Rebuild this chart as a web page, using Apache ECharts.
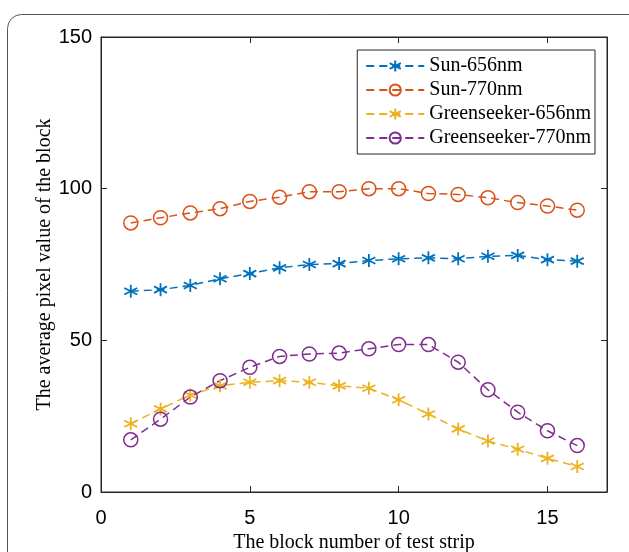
<!DOCTYPE html>
<html>
<head>
<meta charset="utf-8">
<script src="https://cdn.jsdelivr.net/npm/echarts@6/dist/echarts.min.js"></script>
<style>
  html, body { margin: 0; padding: 0; background: #fff; }
  #chart { width: 629px; height: 552px; }
</style>
</head>
<body>
<div id="chart"></div>
<script>
const blocks = [1, 2, 3, 4, 5, 6, 7, 8, 9, 10, 11, 12, 13, 14, 15, 16];
const sun656 = [66.2, 66.7, 68.1, 70.3, 72.0, 73.9, 75.0, 75.3, 76.3, 76.9, 77.2, 76.9, 77.7, 78.0, 76.6, 76.1];
const sun770 = [88.7, 90.4, 92.0, 93.4, 95.8, 97.2, 99.0, 99.0, 100.0, 100.0, 98.4, 98.1, 97.0, 95.4, 94.3, 92.9];
const gs656 = [22.5, 27.4, 32.0, 35.0, 36.2, 36.7, 36.2, 35.0, 34.2, 30.4, 25.7, 20.8, 16.8, 14.1, 11.1, 8.4];
const gs770 = [17.2, 24.0, 31.3, 36.7, 41.1, 44.7, 45.5, 45.8, 47.2, 48.6, 48.6, 42.8, 33.7, 26.3, 20.2, 15.3];
const seriesNames = ["Sun-656nm", "Sun-770nm", "Greenseeker-656nm", "Greenseeker-770nm"];
const colors = ["#0072BD", "#D95319", "#EDB120", "#7E2F8E"];

const star = "path://M0,-10L0,10M-8.66,-5L8.66,5M-8.66,5L8.66,-5";
const axisColor = "#262626";

function makeSeries(name, values, color, isStar) {
  return {
    name: name,
    type: "line",
    xAxisIndex: 0,
    yAxisIndex: 0,
    data: blocks.map((b, i) => [b, values[i]]),
    symbol: isStar ? star : "circle",
    symbolSize: isStar ? 13 : 14,
    lineStyle: { color: color, width: 1.5, type: [8, 5] },
    itemStyle: {
      color: isStar ? color : "rgba(0,0,0,0)",
      borderColor: color,
      borderWidth: isStar ? 1.8 : 1.5,
    },
    emphasis: { disabled: true },
    z: 3,
  };
}

// box axes (top / right) only carry ticks
const boxAxis = {
  type: "value",
  axisLine: { show: true, onZero: false, lineStyle: { color: axisColor, width: 1 } },
  axisTick: { show: true, inside: true, length: 6, lineStyle: { color: axisColor } },
  axisLabel: { show: false },
  splitLine: { show: false },
};

const chart = echarts.init(document.getElementById("chart"));
const option = {
  animation: false,
  graphic: [
    {
      type: "rect",
      shape: { x: 7.5, y: 14.5, width: 640, height: 580, r: 14 },
      style: { fill: "none", stroke: "#555", lineWidth: 1 },
      silent: true,
      z: -1,
    },
  ],
  grid: {
    left: 101,
    right: 22,
    top: 37,
    bottom: 60,
    outerBoundsMode: "none",
    containLabel: false,
    show: true,
    borderColor: axisColor,
    borderWidth: 1,
    backgroundColor: "rgba(0,0,0,0)",
  },
  legend: {
    orient: "vertical",
    right: 34,
    top: 50,
    data: seriesNames,
    backgroundColor: "#fff",
    borderColor: axisColor,
    borderWidth: 1,
    borderRadius: 0,
    padding: [6, 4, 6, 8],
    itemGap: 4,
    itemWidth: 58,
    itemHeight: 14,
    textStyle: { fontFamily: "Liberation Serif", fontSize: 20, lineHeight: 20, color: "#000" },
  },
  xAxis: [
    {
      type: "value",
      min: 0,
      max: 17,
      interval: 5,
      name: "The block number of test strip",
      nameLocation: "middle",
      nameGap: 41,
      nameMoveOverlap: false,
      nameTextStyle: { fontFamily: "Liberation Serif", fontSize: 20, color: "#000" },
      axisLine: { onZero: false, lineStyle: { color: axisColor, width: 1 } },
      axisTick: { inside: true, length: 6, lineStyle: { color: axisColor } },
      axisLabel: {
        margin: 16,
        fontFamily: "Liberation Sans",
        fontSize: 20,
        color: "#000",
        formatter: (v) => (v % 5 === 0 ? String(v) : ""),
      },
      splitLine: { show: false },
    },
    Object.assign({ position: "top", min: 0, max: 17, interval: 5 }, boxAxis),
  ],
  yAxis: [
    {
      type: "value",
      min: 0,
      max: 150,
      interval: 50,
      name: "The average pixel value of the block",
      nameLocation: "middle",
      nameGap: 46,
      nameMoveOverlap: false,
      nameTextStyle: { fontFamily: "Liberation Serif", fontSize: 20, color: "#000" },
      axisLine: { show: true, onZero: false, lineStyle: { color: axisColor, width: 1 } },
      axisTick: { show: true, inside: true, length: 6, lineStyle: { color: axisColor } },
      axisLabel: { margin: 9, fontFamily: "Liberation Sans", fontSize: 20, color: "#000" },
      splitLine: { show: false },
    },
    Object.assign({ position: "right", min: 0, max: 150, interval: 50 }, boxAxis),
  ],
  series: [
    makeSeries(seriesNames[0], sun656, colors[0], true),
    makeSeries(seriesNames[1], sun770, colors[1], false),
    makeSeries(seriesNames[2], gs656, colors[2], true),
    makeSeries(seriesNames[3], gs770, colors[3], false),
    {
      // invisible helper so the top/right box axes get drawn
      name: "box",
      type: "line",
      xAxisIndex: 1,
      yAxisIndex: 1,
      data: [[blocks[0], sun656[0]]],
      symbol: "none",
      lineStyle: { opacity: 0 },
      silent: true,
      tooltip: { show: false },
    },
  ],
};
chart.setOption(option);
</script>
</body>
</html>
